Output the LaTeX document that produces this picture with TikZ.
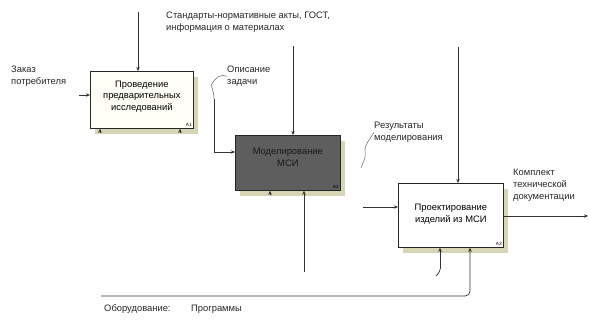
\documentclass[tikz,border=0pt]{standalone}
\usepackage{fontspec}
\setmainfont{Liberation Sans}
\usetikzlibrary{arrows.meta,positioning,shadows}

\definecolor{shadowc}{HTML}{D6D6B4}
\definecolor{darkbox}{HTML}{5E5E5E}

\begin{document}
\begin{tikzpicture}[x=0.03cm, y=-0.03cm,
  font=\fontsize{8}{10}\selectfont,
  proc/.style={draw=black!85, line width=0.6pt, fill=white, align=center, anchor=north west,
               inner sep=1pt,
               general shadow={fill=shadowc, shadow xshift=0.15cm, shadow yshift=-0.18cm}},
  procdark/.style={proc, fill=darkbox, text=black!90},
  num/.style={font=\fontsize{4}{4}\selectfont, inner sep=1.5pt, anchor=south east},
  lbl/.style={align=left, inner sep=0pt, anchor=north west, text=black!85},
  arr/.style={draw=black!80, line width=0.6pt, -{Stealth[length=3.5pt,width=3pt]}},
  squig/.style={draw=black!65, line width=0.4pt}
]
\useasboundingbox (0,0) rectangle (590,320);

% boxes
\node[proc, minimum width=3.09cm, minimum height=1.71cm, fill=yellow!3] (b1) at (90,71)
  {Проведение\\предварительных\\исследований\\[-3pt]~};
\node[procdark, minimum width=3.15cm, minimum height=1.65cm] (b2) at (235,135)
  {Моделирование\\МСИ\\[-1pt]~};
\node[proc, minimum width=3.15cm, minimum height=1.92cm] (b3) at (398,183)
  {Проектирование\\изделий из МСИ\\[-6pt]~};
\node[num] (n1) at (b1.south east) {A1};
\node[num] (n2) at (b2.south east) {A2};
\node[num] (n3) at (b3.south east) {A3};

% labels
\node[lbl] (order) at (11,66) {Заказ\\потребителя};
\node[lbl] (norms) at (166,12) {Стандарты-нормативные акты, ГОСТ,\\информация о материалах};
\node[lbl] (descr) at (227,66) {Описание\\задачи};
\node[lbl] (res) at (374,122) {Результаты\\моделирования};
\node[lbl] (docs) at (513,169) {Комплект\\технической\\документации};
\node[lbl, anchor=west] (equip) at (104,309) {Оборудование:};
\node[lbl, anchor=west] (progs) at (191,309) {Программы};

% free ends
\coordinate (t1) at (138,12);
\coordinate (i1) at (79,95);
\coordinate (d1) at (214,99);
\coordinate (d2) at (214,152);
\coordinate (t2) at (293,46);
\coordinate (m2) at (304,272);
\coordinate (t3) at (458,47);
\coordinate (r1) at (363,207);
\coordinate (r2) at (361,168);
\coordinate (o3) at (588,216);
\coordinate (m3a) at (440,269);
\coordinate (m3b) at (101,296);
\coordinate (k3) at (470,296);
\coordinate (s1) at (100,133);
\coordinate (s2) at (180,133);
\coordinate (s3) at (270,195);

% connectors
\draw[arr] (t1) -- (t1 |- b1.north);
\draw[arr] (i1) -- (i1 -| b1.west);
\draw[arr] (d1) -- (d2) -- (d2 -| b2.west);
\draw[arr] (t2) -- (t2 |- b2.north);
\draw[arr] (m2) -- (m2 |- b2.south);
\draw[arr] (t3) -- (t3 |- b3.north);
\draw[arr] (r1) -- (r1 -| b3.west);
\draw[arr] (b3.east |- o3) -- (o3);
\draw[arr] (m3a) -- (m3a |- b3.south);
\draw[draw=black!80, line width=0.6pt] (m3a) .. controls (440,273) and (437,274) .. (436,276);
\draw[arr, rounded corners=4pt] (m3b) -- (k3) -- (k3 |- b3.south);
\draw[arr] (s1) -- (s1 |- b1.south);
\draw[arr] (s2) -- (s2 |- b1.south);
\draw[arr] (s3) -- (s3 |- b2.south);

% squiggles to labels
\draw[squig] (d1) .. controls (214,88) and (209,86) .. (213,82) .. controls (217,78) and (218,74) .. (descr.west);
\draw[squig] (r2) .. controls (364,160) and (366,158) .. (365,152) .. controls (364,146) and (368,142) .. (res.west);
\end{tikzpicture}
\end{document}
